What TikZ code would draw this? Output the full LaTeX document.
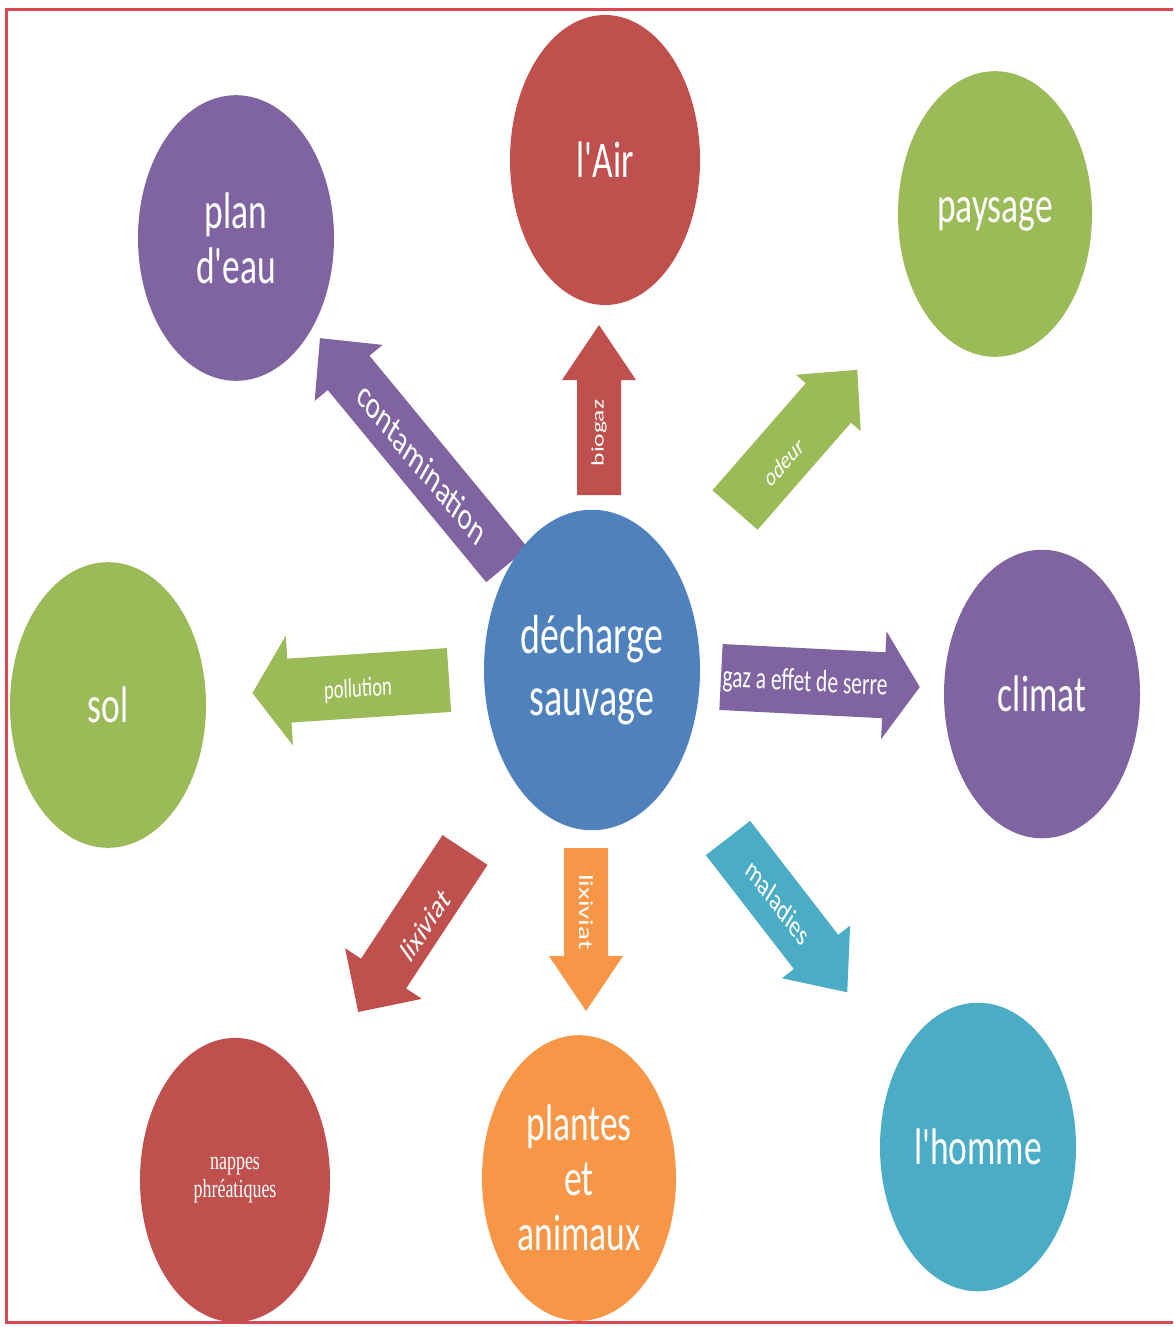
\documentclass[tikz,border=0pt]{standalone}
\usepackage{fontspec}
\setmainfont{Carlito}
\newfontfamily\apfont{Carlito}
\newfontfamily\serifnap{Liberation Serif}
\newcommand{\ap}{{\apfont'}}
\usetikzlibrary{shapes.geometric}
\definecolor{cpurple}{HTML}{8064A2}
\definecolor{cred}{HTML}{C0504D}
\definecolor{cgreen}{HTML}{9BBB59}
\definecolor{cblue}{HTML}{4F81BD}
\definecolor{ccyan}{HTML}{4BACC6}
\definecolor{corange}{HTML}{F79646}
\definecolor{cborder}{RGB}{218,72,84}
% tailx, taily, angle, length, body half-width, head half-width, head length, colour
\newcommand{\blockarr}[8]{%
  \fill[#8, shift={(#1,#2)}, rotate=#3] (0,#5) -- ({#4-#7},#5) -- ({#4-#7},#6) -- (#4,0)
    -- ({#4-#7},-#6) -- ({#4-#7},-#5) -- (0,-#5) -- cycle;}
\begin{document}
\begin{tikzpicture}[x=1pt,y=-1pt,
  bubble/.style={ellipse, inner sep=0pt, text=white, align=center, yscale=1.45,
    font=\fontsize{35.5}{38}\selectfont},
  lbl/.style={text=white, inner sep=0pt}]
\useasboundingbox (0,0) rectangle (1173,1327);
\fill[white] (0,0) rectangle (1173,1327);
\draw[cborder, line width=3pt] (1173,10) -- (6,10) -- (6,1322) -- (1173,1322);

% block arrows
\blockarr{507}{565}{129.5}{294}{27}{44}{45}{cpurple}
\blockarr{599}{495}{90}{170}{22}{37}{55}{cred}
\blockarr{735}{510}{48.9}{186}{30}{43}{44}{cgreen}
\blockarr{449}{680}{183.8}{197}{32}{55}{37}{cgreen}
\blockarr{721}{677}{-2.9}{199}{33}{54}{36}{cpurple}
\blockarr{465}{850}{-123.4}{194}{27}{46}{46}{cred}
\blockarr{586}{848}{-90}{163}{22}{37}{55}{corange}
\blockarr{728}{838}{-52.3}{195}{28}{43}{51}{ccyan}

% arrow labels
\node[lbl, font=\fontsize{27}{30}\selectfont, yscale=1.45, rotate=-39.9] (lcont) at (422,463) {contamination};
\node[lbl, font=\fontsize{17.6}{20}\selectfont, yscale=1.45, rotate=90] (lbio) at (599,433) {biogaz};
\node[lbl, font=\fontsize{18}{20}\selectfont, yscale=1.45, rotate=38.3] (lodeur) at (784,462) {odeur};
\node[lbl, font=\fontsize{18.6}{20}\selectfont, yscale=1.45, rotate=2.8] (lpoll) at (358,690) {pollution};
\node[lbl, font=\fontsize{21.5}{24}\selectfont, yscale=1.45, rotate=-2] (lgaz) at (805,683) {gaz a effet de serre};
\node[lbl, font=\fontsize{23}{25}\selectfont, yscale=1.45, rotate=46.3] (llixa) at (425,925) {lixiviat};
\node[lbl, font=\fontsize{20}{22}\selectfont, yscale=1.45, rotate=-90] (llixb) at (586,912) {lixiviat};
\node[lbl, font=\fontsize{21.4}{24}\selectfont, yscale=1.45, rotate=-41.7] (lmal) at (778,902) {maladies};

% bubbles
\node[bubble, fill=cred, minimum width=190pt, minimum height=200pt] (air) at (605,160) {l\ap Air};
\node[bubble, fill=cpurple, minimum width=196pt, minimum height=197pt] (eau) at (236,238) {plan\\d\ap eau};
\node[bubble, fill=cgreen, minimum width=194pt, minimum height=197pt] (pays) at (995,214) {paysage};
\node[bubble, fill=cgreen, minimum width=196pt, minimum height=197pt] (sol) at (108,705) {sol};
\node[bubble, fill=cblue, minimum width=216pt, minimum height=221pt,
  font=\fontsize{38}{43}\selectfont] (dech) at (592,670) {décharge\\sauvage};
\node[bubble, fill=cpurple, minimum width=196pt, minimum height=199pt] (clim) at (1042,694) {climat};
\node[bubble, fill=cred, minimum width=190pt, minimum height=196pt,
  font=\serifnap\fontsize{18}{19.5}\selectfont] (nap) at (235,1180) {nappes\\phréatiques};
\node[bubble, fill=corange, minimum width=194pt, minimum height=197pt] (plant) at (579,1178) {plantes\\et\\animaux};
\node[bubble, fill=ccyan, minimum width=196pt, minimum height=199pt] (homme) at (978,1147) {l\ap homme};
\end{tikzpicture}
\end{document}
